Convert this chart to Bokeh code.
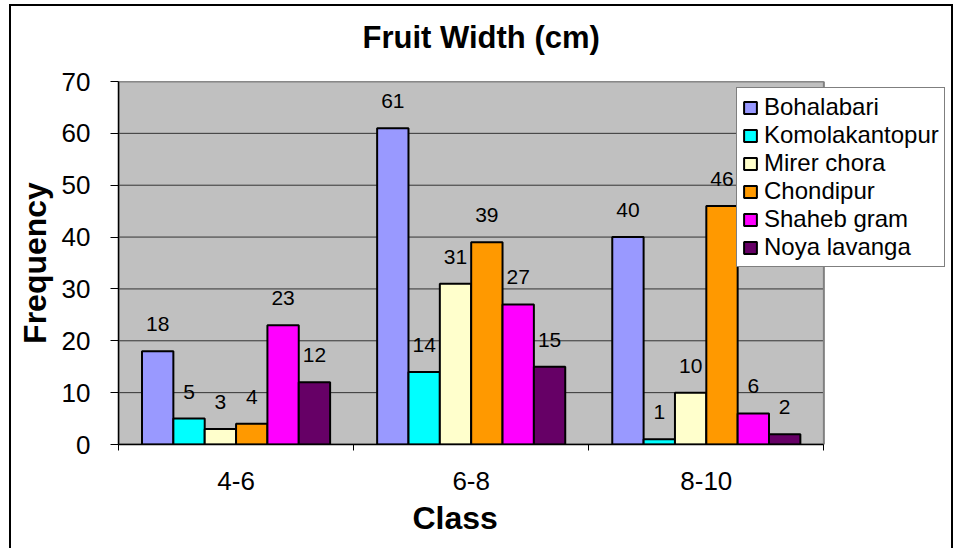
from bokeh.plotting import figure
from bokeh.models import FixedTicker, Legend, LegendItem, Range1d, Title
from bokeh.core.properties import value
from bokeh.embed import file_html
from bokeh.resources import INLINE

categories = ["4-6", "6-8", "8-10"]
series_names = ["Bohalabari", "Komolakantopur", "Mirer chora", "Chondipur", "Shaheb gram", "Noya lavanga"]
bohalabari = [18, 61, 40]
komolakantopur = [5, 14, 1]
mirer_chora = [3, 31, 10]
chondipur = [4, 39, 46]
shaheb_gram = [23, 27, 6]
noya_lavanga = [12, 15, 2]
series_values = [bohalabari, komolakantopur, mirer_chora, chondipur, shaheb_gram, noya_lavanga]
colors = ["#9999FF", "#00FFFF", "#FFFFCC", "#FF9900", "#FF00FF", "#660066"]
y_ticks = [0, 10, 20, 30, 40, 50, 60, 70]
y_max = 70

FONT = "Liberation Sans"
ncat = len(categories)

# plot area spans 702px for the categories; frame extends to right edge for the legend
x_end = ncat * 833 / 702

p = figure(width=944, height=544, x_range=Range1d(0, x_end), y_range=Range1d(0, y_max),
           output_backend="svg", toolbar_location=None,
           min_border_left=107, min_border_right=0, min_border_top=0, min_border_bottom=106)
p.styles = {"border-left": "2px solid black", "border-top": "2px solid black",
            "border-right": "2px solid black", "margin-left": "9px", "margin-top": "4px",
            "box-sizing": "border-box"}

p.background_fill_color = "white"
p.border_fill_color = "white"
p.outline_line_color = None

# plot area
p.quad(left=[0], right=[ncat], bottom=[0], top=[y_max], fill_color="#C0C0C0", line_color=None)
p.segment(x0=[0] * len(y_ticks), x1=[ncat] * len(y_ticks), y0=y_ticks, y1=y_ticks,
          line_color="#333333", line_width=1)
p.quad(left=[0], right=[ncat], bottom=[0], top=[y_max], fill_color=None,
       line_color="#808080", line_width=2)

# title (outermost) with a blank spacer between it and the plot area
p.title.text = "Fruit Width (cm)"
p.title.text_font = FONT
p.title.text_font_size = "31px"
p.title.text_font_style = "bold"
p.title.text_color = "black"
p.title.align = "left"
p.title.offset = 244
p.title.standoff = 23
spacer = Title(text=" ", text_font_size="2px", standoff=11)
p.add_layout(spacer, "above")

n = len(series_names)
w = 0.8 / n
items = []
for j, (name, vals, col) in enumerate(zip(series_names, series_values, colors)):
    xs = [i + 0.1 + w * (j + 0.5) for i in range(ncat)]
    r = p.vbar(x=xs, top=vals, width=w, fill_color=col, line_color="black", line_width=2)
    items.append(LegendItem(label=name, renderers=[r]))
    p.text(x=xs, y=vals, text=[str(v) for v in vals], text_align="center", text_baseline="alphabetic",
           y_offset=-27, text_font=value(FONT), text_font_size="21px", text_color="black")

# axes
p.xaxis.ticker = FixedTicker(ticks=[i + 0.5 for i in range(ncat)], minor_ticks=list(range(ncat + 1)))
p.xaxis.major_label_overrides = {i + 0.5: c for i, c in enumerate(categories)}
p.xaxis.bounds = (0, ncat)
p.xaxis.major_tick_line_color = None
p.xaxis.minor_tick_line_color = "black"
p.xaxis.minor_tick_out = 6
p.xaxis.minor_tick_in = 0
p.xaxis.axis_line_color = "black"
p.xaxis.axis_line_width = 1.5
p.xaxis.major_label_text_font = FONT
p.xaxis.major_label_text_font_size = "26px"
p.xaxis.major_label_text_color = "black"
p.xaxis.major_label_standoff = 21

p.yaxis.ticker = FixedTicker(ticks=y_ticks, minor_ticks=[])
p.yaxis.major_tick_out = 8
p.yaxis.major_tick_in = 0
p.yaxis.major_tick_line_color = "black"
p.yaxis.minor_tick_line_color = None
p.yaxis.axis_line_color = "black"
p.yaxis.axis_line_width = 1.5
p.yaxis.major_label_text_font = FONT
p.yaxis.major_label_text_font_size = "26px"
p.yaxis.major_label_text_color = "black"
p.yaxis.major_label_standoff = 20
p.yaxis.axis_label = "Frequency"
p.yaxis.axis_label_text_font = FONT
p.yaxis.axis_label_text_font_size = "32px"
p.yaxis.axis_label_text_font_style = "bold"
p.yaxis.axis_label_text_color = "black"
p.yaxis.axis_label_standoff = 6

p.xgrid.visible = False
p.ygrid.visible = False

xlabel = Title(text="Class", align="left", offset=294, standoff=11, text_font=FONT,
               text_font_size="32px", text_font_style="bold", text_color="black")
p.add_layout(xlabel, "below")

legend = Legend(items=items, location=(618, 177), margin=0, padding=5, spacing=0,
                label_height=24, glyph_width=16, glyph_height=15, label_standoff=6,
                label_text_font=FONT, label_text_font_size="24px", label_text_color="black",
                border_line_color="black", border_line_width=1,
                background_fill_color="white", background_fill_alpha=1.0)
p.add_layout(legend)

open("out.html", "w").write(file_html(p, INLINE))
